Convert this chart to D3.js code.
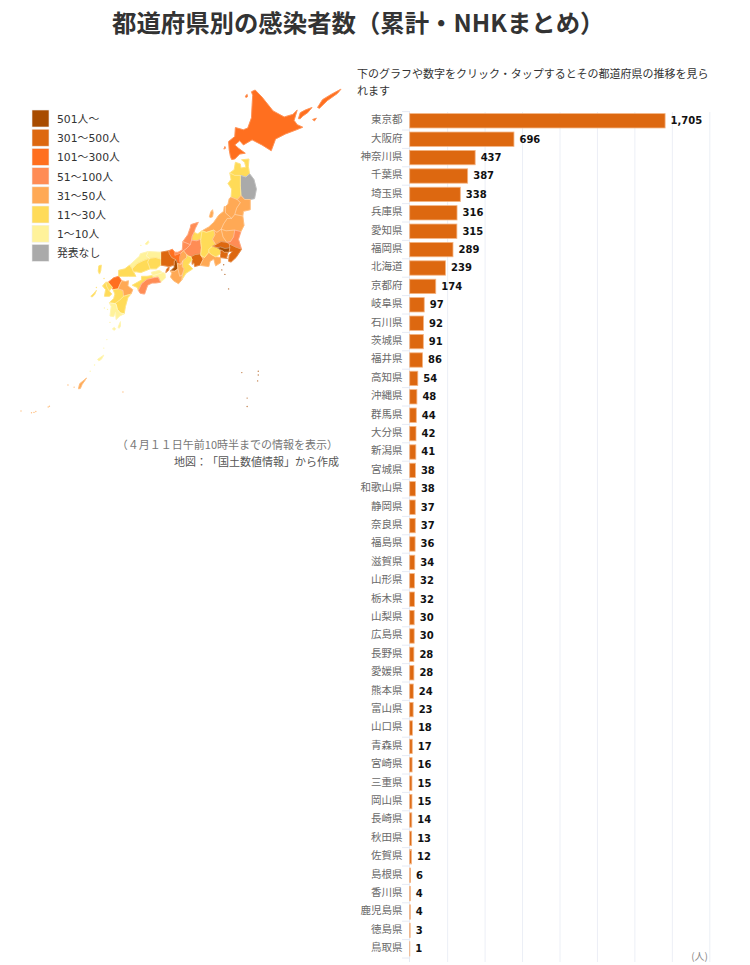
<!DOCTYPE html>
<html lang="ja"><head><meta charset="utf-8">
<script src="https://cdn.jsdelivr.net/npm/d3@7"></script>
<style>
html,body{margin:0;padding:0;background:#fff}
svg{display:block}
text{font-family:"Noto Sans CJK JP","Noto Sans",sans-serif;text-spacing-trim:space-all}
</style></head><body><svg id="c" width="750" height="965"></svg>
<script>
const prefectures=["東京都","大阪府","神奈川県","千葉県","埼玉県","兵庫県","愛知県","福岡県","北海道","京都府","岐阜県","石川県","茨城県","福井県","高知県","沖縄県","群馬県","大分県","新潟県","宮城県","和歌山県","静岡県","奈良県","福島県","滋賀県","山形県","栃木県","山梨県","広島県","長野県","愛媛県","熊本県","富山県","山口県","青森県","宮崎県","三重県","岡山県","長崎県","秋田県","佐賀県","島根県","香川県","鹿児島県","徳島県","鳥取県"];
const counts=[1705,696,437,387,338,316,315,289,239,174,97,92,91,86,54,48,44,42,41,38,38,37,37,36,34,32,32,30,30,28,28,24,23,18,17,16,15,15,14,13,12,6,4,4,3,1];
const xTicks=[250,500,750,1000,1250,1500,1750,2000];
const legendLabels=["501人〜","301〜500人","101〜300人","51〜100人","31〜50人","11〜30人","1〜10人","発表なし"];
const legendColors=["#a84c00","#dd6810","#ff6f1f","#ff8c55","#ffa955","#ffdb58","#fff29a","#aaaaaa"];
const legendBreaks=[11,31,51,101,301,501];
const introLines=["下のグラフや数字をクリック・タップするとその都道府県の推移を見ら","れます"];
// Prefecture outlines, [lon,lat]
const outlines=[
["北海道",[[141.65,45.4],[141.95,45.5],[142.5,45.1],[143.4,44.3],[144.3,43.95],[145.0,44.1],[145.35,44.35],[145.1,43.75],[145.35,43.5],[145.8,43.35],[145.3,43.2],[144.4,42.95],[143.6,42.65],[143.25,41.95],[142.5,42.3],[141.7,42.6],[141.0,42.3],[140.7,42.55],[140.3,42.3],[140.6,42.1],[141.15,41.8],[140.7,41.75],[140.3,41.45],[140.05,41.42],[139.95,41.6],[139.85,42.0],[139.8,42.5],[140.3,42.8],[140.35,43.33],[141.0,43.2],[141.35,43.3],[141.65,43.9],[141.7,44.6],[141.75,45.2]]],
["北海道",[[145.45,43.85],[145.6,44.2],[146.0,44.35],[146.55,44.5],[146.2,44.2],[145.8,44.0],[145.6,43.85]]],
["北海道",[[147.0,44.5],[147.4,44.95],[148.1,45.25],[148.9,45.55],[148.6,45.3],[147.8,44.9],[147.15,44.45]]],
["北海道",[[146.6,43.8],[146.9,43.88],[146.75,43.72]]],
["北海道",[[141.15,45.15],[141.3,45.25],[141.33,45.12],[141.2,45.08]]],
["北海道",[[139.42,42.05],[139.5,42.2],[139.55,42.1]]],
["青森県",[[139.9,40.6],[140.25,40.8],[140.35,41.25],[140.75,41.15],[140.8,40.9],[141.2,40.95],[141.1,41.25],[140.85,41.4],[141.45,41.45],[141.4,41.0],[141.5,40.55],[141.2,40.35],[140.75,40.45],[140.3,40.45]]],
["岩手県",[[141.5,40.55],[141.85,40.2],[142.05,39.6],[141.9,39.0],[141.55,38.95],[141.1,38.95],[140.8,39.2],[140.75,39.8],[140.75,40.45],[141.2,40.35]]],
["秋田県",[[139.9,40.6],[140.3,40.45],[140.75,40.45],[140.75,39.8],[140.8,39.2],[140.5,38.95],[140.0,39.1],[140.05,39.6],[139.75,39.95],[140.0,40.2]]],
["宮城県",[[141.1,38.95],[141.55,38.95],[141.55,38.3],[141.0,38.2],[140.95,37.9],[140.3,38.0],[140.45,38.4],[140.75,38.75],[140.5,38.95],[140.8,39.2]]],
["山形県",[[140.0,39.1],[140.5,38.95],[140.75,38.75],[140.45,38.4],[140.3,38.0],[140.05,37.75],[139.55,38.1],[139.55,38.5],[139.75,38.65],[139.85,39.0]]],
["福島県",[[140.95,37.9],[141.05,37.3],[140.8,36.9],[140.3,37.0],[139.6,36.95],[139.2,37.05],[139.4,37.4],[139.7,37.75],[140.05,37.75],[140.3,38.0]]],
["新潟県",[[139.55,38.5],[139.55,38.1],[140.05,37.75],[139.7,37.75],[139.4,37.4],[139.2,37.05],[138.85,36.85],[138.6,37.0],[138.0,36.85],[137.65,36.95],[138.2,37.2],[138.6,37.5],[139.0,37.95],[139.4,38.2],[139.45,38.5]]],
["新潟県",[[138.25,37.85],[138.35,38.15],[138.5,38.3],[138.55,38.1],[138.5,37.85],[138.3,37.8]]],
["富山県",[[137.0,36.85],[137.3,36.75],[137.65,36.95],[137.55,36.4],[137.2,36.3],[136.8,36.35],[136.85,36.6]]],
["石川県",[[136.1,36.25],[136.5,36.7],[136.7,37.15],[136.75,37.35],[137.35,37.5],[137.1,37.1],[137.0,36.85],[136.85,36.6],[136.8,36.35],[136.7,36.05],[136.4,36.15]]],
["福井県",[[136.1,36.25],[136.4,36.15],[136.7,36.05],[136.4,35.8],[136.15,35.65],[135.95,35.5],[135.45,35.35],[135.45,35.55],[135.7,35.55],[136.05,35.7]]],
["岐阜県",[[136.8,36.35],[137.2,36.3],[137.55,36.4],[137.55,36.2],[137.6,35.85],[137.55,35.45],[137.1,35.4],[136.75,35.25],[136.55,3.53e1],[136.4,35.4],[136.15,35.65],[136.4,35.8],[136.7,36.05]]],
["愛知県",[[136.75,35.25],[137.1,35.4],[137.55,35.45],[137.55,35.35],[137.75,35.1],[137.5,34.7],[137.05,34.6],[137.0,34.85],[136.85,34.75],[136.85,35.05]]],
["三重県",[[136.55,35.3],[136.75,35.25],[136.85,35.05],[136.55,34.75],[136.9,34.45],[136.35,34.15],[136.02,33.72],[136.05,34.05],[136.2,34.45],[136.05,34.6],[136.1,35.0],[136.4,35.2],[136.4,35.4]]],
["滋賀県",[[135.95,35.5],[136.15,35.65],[136.4,35.4],[136.4,35.2],[136.1,35.0],[135.95,34.75],[135.85,34.95],[135.85,35.25]]],
["静岡県",[[137.55,35.35],[137.75,35.1],[137.5,34.68],[138.2,34.6],[138.3,34.95],[138.6,35.1],[138.75,34.65],[139.15,34.85],[139.15,35.2],[138.75,35.25],[138.4,35.4],[138.2,35.55],[137.85,35.2]]],
["長野県",[[137.65,36.95],[138.0,36.85],[138.6,37.0],[138.7,36.7],[138.5,36.4],[138.75,36.05],[138.5,35.95],[138.2,35.75],[138.2,35.55],[137.85,35.2],[137.55,35.35],[137.55,35.45],[137.6,35.85],[137.55,36.2],[137.55,36.4]]],
["山梨県",[[138.2,35.75],[138.5,35.95],[138.9,35.85],[139.15,35.7],[139.15,35.45],[138.75,35.25],[138.4,35.4],[138.2,35.55]]],
["群馬県",[[138.6,37.0],[138.85,36.85],[139.2,37.05],[139.35,36.55],[139.65,36.2],[139.2,36.25],[138.75,36.05],[138.5,36.4],[138.7,36.7]]],
["栃木県",[[139.2,37.05],[139.6,36.95],[140.3,37.0],[140.2,36.55],[139.95,36.25],[139.65,36.2],[139.35,36.55]]],
["茨城県",[[140.3,37.0],[140.8,36.9],[140.6,36.4],[140.85,35.75],[140.35,35.9],[139.85,36.1],[139.65,36.2],[139.95,36.25],[140.2,36.55]]],
["埼玉県",[[138.75,36.05],[139.2,36.25],[139.65,36.2],[139.85,36.1],[139.9,35.85],[139.5,35.8],[139.15,35.9],[138.9,35.85],[138.5,35.95]]],
["東京都",[[139.15,35.7],[138.9,35.85],[139.15,35.9],[139.5,35.8],[139.9,35.85],[139.85,35.6],[139.75,35.55],[139.45,35.55],[139.3,35.65]]],
["神奈川県",[[139.15,35.45],[139.15,35.7],[139.3,35.65],[139.45,35.55],[139.75,35.55],[139.65,35.2],[139.7,35.13],[139.6,35.15],[139.15,35.2]]],
["千葉県",[[139.85,36.1],[140.35,35.9],[140.85,35.75],[140.4,35.2],[140.0,34.9],[139.8,34.95],[139.85,35.35],[140.1,35.6],[139.85,35.6],[139.9,35.85]]],
["京都府",[[135.25,35.75],[135.45,35.55],[135.45,35.35],[135.95,35.5],[135.85,35.25],[135.85,34.95],[135.95,34.75],[135.65,34.8],[135.55,35.05],[135.2,35.2],[135.0,35.45],[134.95,35.65]]],
["大阪府",[[135.4,34.95],[135.55,35.05],[135.65,34.8],[135.7,34.45],[135.45,34.3],[135.1,34.3],[135.4,34.55],[135.4,34.7]]],
["兵庫県",[[134.3,35.55],[134.95,35.65],[135.0,35.45],[135.2,35.2],[135.55,35.05],[135.4,34.95],[135.4,34.7],[135.0,34.6],[134.3,34.7],[134.3,35.1]]],
["兵庫県",[[135.0,34.62],[134.95,34.35],[134.72,34.2],[134.78,34.42]]],
["奈良県",[[135.65,34.8],[135.95,34.75],[136.1,35.0],[136.05,34.6],[136.2,34.45],[136.05,34.05],[135.85,33.95],[135.7,34.45]]],
["和歌山県",[[135.1,34.3],[135.45,34.3],[135.7,34.45],[135.85,33.95],[136.05,34.05],[136.02,33.72],[135.75,33.45],[135.35,33.65],[135.1,33.9],[135.2,34.15]]],
["鳥取県",[[133.3,35.6],[134.3,35.55],[134.3,35.1],[133.9,35.2],[133.4,35.15],[133.15,35.3]]],
["島根県",[[131.8,34.7],[132.6,35.3],[132.65,35.45],[133.3,35.6],[133.15,35.3],[133.4,35.15],[132.9,35.0],[132.4,34.8],[132.0,34.45]]],
["島根県",[[133.05,36.1],[133.3,36.3],[133.35,36.2],[133.2,36.05]]],
["岡山県",[[133.4,35.15],[133.9,35.2],[134.3,35.1],[134.3,34.7],[133.95,34.45],[133.45,34.45],[133.25,34.9]]],
["広島県",[[132.0,34.45],[132.4,34.8],[132.9,35.0],[133.4,35.15],[133.25,34.9],[133.45,34.45],[132.7,34.2],[132.35,34.25],[132.1,34.25]]],
["山口県",[[130.9,33.95],[130.9,34.35],[131.4,34.45],[131.8,34.7],[132.0,34.45],[132.1,34.25],[132.3,33.95],[131.7,33.95],[131.2,33.95]]],
["香川県",[[133.55,34.22],[134.2,34.35],[134.45,34.2],[133.9,34.05],[133.65,34.0]]],
["徳島県",[[133.65,34.0],[133.9,34.05],[134.45,34.2],[134.65,34.15],[134.7,33.85],[134.3,33.55],[134.1,33.9],[133.7,33.85]]],
["愛媛県",[[132.0,33.35],[132.75,33.7],[132.75,33.95],[133.2,33.95],[133.65,34.0],[133.7,33.85],[133.2,33.75],[132.75,33.45],[132.5,33.0],[132.4,33.2]]],
["高知県",[[133.7,33.85],[134.1,33.9],[134.3,33.55],[133.9,33.5],[133.6,33.5],[133.25,33.35],[133.0,32.75],[132.65,32.8],[132.5,33.0],[132.75,33.45],[133.2,33.75]]],
["福岡県",[[130.05,33.55],[130.5,33.85],[130.9,33.95],[131.15,33.65],[131.0,33.4],[130.85,33.1],[130.45,33.05],[130.4,33.2],[130.2,33.4]]],
["佐賀県",[[129.85,33.55],[130.05,33.55],[130.2,33.4],[130.4,33.2],[130.25,33.1],[130.15,32.95],[129.95,33.25]]],
["長崎県",[[129.6,33.3],[129.85,33.55],[129.95,33.25],[130.15,32.95],[130.35,32.75],[130.15,32.6],[129.75,32.6],[129.85,33.05]]],
["長崎県",[[129.25,34.3],[129.3,34.65],[129.5,34.7],[129.45,34.3],[129.35,34.1]]],
["長崎県",[[128.65,32.6],[128.85,32.75],[129.1,33.0],[128.95,32.7],[128.75,32.55]]],
["熊本県",[[130.45,33.05],[130.85,33.1],[131.25,33.0],[131.3,32.6],[131.0,32.35],[130.6,32.1],[130.15,32.15],[130.5,32.45],[130.6,32.75]]],
["大分県",[[131.15,33.65],[131.45,33.6],[131.7,33.65],[131.65,33.3],[132.05,33.05],[131.9,32.75],[131.3,32.6],[131.25,33.0],[130.85,33.1],[131.0,33.4]]],
["宮崎県",[[131.9,32.75],[131.65,32.5],[131.45,31.9],[131.35,31.4],[131.05,31.45],[130.8,31.7],[130.7,32.05],[130.6,32.1],[131.0,32.35],[131.3,32.6]]],
["鹿児島県",[[130.6,32.1],[130.7,32.05],[130.8,31.7],[131.05,31.45],[131.35,31.4],[131.0,31.25],[130.7,31.0],[130.65,31.5],[130.5,31.2],[130.2,31.25],[130.3,31.9],[130.15,32.15]]],
["鹿児島県",[[130.4,30.35],[130.55,30.45],[130.65,30.35],[130.55,30.25]]],
["鹿児島県",[[130.85,30.45],[131.05,30.85],[131.05,30.55],[130.95,30.4]]],
["鹿児島県",[[129.2,28.2],[129.7,28.5],[129.5,28.2],[129.3,28.1]]],
["沖縄県",[[127.65,26.08],[127.75,26.45],[128.3,26.85],[127.95,26.4],[127.8,26.1]]]
];
const islets=[["東京都",139.4,34.72],["東京都",139.25,34.38],["東京都",139.5,34.08],["東京都",139.8,33.1],["東京都",140.87,27.25],["東京都",142.2,27.35],["東京都",142.2,27.08],["東京都",142.15,26.65],["東京都",141.3,25.4],["東京都",141.3,24.78],["沖縄県",127.3,26.2],["沖縄県",126.8,26.35],["沖縄県",125.3,24.8],["沖縄県",125.2,24.75],["沖縄県",124.2,24.42],["沖縄県",123.85,24.32],["沖縄県",124.05,24.35],["沖縄県",123.0,24.45],["沖縄県",131.25,25.85],["鹿児島県",128.95,27.8],["鹿児島県",128.6,27.35],["鹿児島県",129.7,29.0],["鹿児島県",129.95,29.6],["鹿児島県",130.2,30.8],["鹿児島県",129.75,31.8],["鹿児島県",130.0,31.7],["長崎県",129.72,33.8],["長崎県",129.1,33.2],["島根県",132.7,36.0]];

const svg=d3.select("#c");
svg.append("rect").attr("width",750).attr("height",965).attr("fill","#fff");

const countOf=new Map(prefectures.map((p,i)=>[p,counts[i]]));
const colorScale=d3.scaleThreshold().domain(legendBreaks).range(legendColors.slice(0,7).reverse());
const fillOf=p=>countOf.has(p)?colorScale(countOf.get(p)):legendColors[7];

// Title and notes
svg.append("text").attr("x",112).attr("y",32).attr("font-size",24.4).attr("font-weight",700).attr("fill","#333").text("都道府県別の感染者数（累計・NHKまとめ）");
svg.selectAll(".intro").data(introLines).join("text").attr("class","intro").attr("x",357).attr("y",(d,i)=>78+i*17).attr("font-size",11).attr("fill","#333").text(d=>d);

// Map
const projection=d3.geoMercator().scale(708).center([123,45.5]).translate([21,90]);
const line=d3.line().x(d=>projection(d)[0]).y(d=>projection(d)[1]).curve(d3.curveLinearClosed);
const gMap=svg.append("g");
gMap.selectAll("path.land").data(outlines).join("path").attr("class","land").attr("d",d=>line(d[1])).attr("fill",d=>fillOf(d[0])).attr("stroke",d=>fillOf(d[0])).attr("stroke-width",.9).attr("stroke-linejoin","round");
gMap.selectAll("path.border").data(outlines).join("path").attr("class","border").attr("d",d=>line(d[1])).attr("fill","none").attr("stroke","#fff").attr("stroke-opacity",.4).attr("stroke-width",.5).attr("stroke-linejoin","round");
gMap.selectAll("circle").data(islets).join("circle").attr("cx",d=>projection([d[1],d[2]])[0]).attr("cy",d=>projection([d[1],d[2]])[1]).attr("r",.7).attr("fill",d=>fillOf(d[0])).attr("opacity",.75);

// Legend
const legend=svg.append("g").selectAll("g").data(legendLabels).join("g").attr("transform",(d,i)=>`translate(32,${110+i*19.2})`);
legend.append("rect").attr("width",17).attr("height",17).attr("fill",(d,i)=>legendColors[i]).attr("stroke","#eee").attr("stroke-width",.6);
legend.append("text").attr("x",25).attr("y",13).attr("font-size",10.8).attr("fill","#333").style("font-family",'"DejaVu Sans","Noto Sans CJK JP",sans-serif').text(d=>d);

// Captions
svg.append("text").attr("x",338).attr("y",449).attr("text-anchor","end").attr("font-size",11).attr("fill","#777").text("（４月１１日午前10時半までの情報を表示）");
svg.append("text").attr("x",339).attr("y",466).attr("text-anchor","end").attr("font-size",11).attr("fill","#555").text("地図：「国土数値情報」から作成");

// Bars
const x=d3.scaleLinear().domain([0,2000]).range([409.7,709.3]);
const y=d3.scaleBand().domain(prefectures).range([111.6,958]).paddingInner(0.22).paddingOuter(0.11);
const stepH=y.step();
const grid=svg.append("g").attr("transform","translate(0,112)").call(d3.axisBottom(x).tickValues(xTicks).tickSize(850).tickFormat(""));
grid.select(".domain").remove();
grid.selectAll(".tick line").attr("stroke","#eceff6").attr("stroke-width",1);

const yAxis=svg.append("g").attr("transform","translate(402.5,0)").call(d3.axisLeft(y).tickSize(0).tickPadding(0));
yAxis.select(".domain").remove();
yAxis.selectAll("text").attr("font-size",10.5).attr("fill","#6a6a6a").attr("dy","0.22em").style("font-family",'"Noto Sans CJK JP",sans-serif');

const edge=[...prefectures.map(p=>y(p)-y.paddingInner()*stepH/2),958];
svg.append("g").selectAll("line").data(edge).join("line").attr("x1",402).attr("x2",409.5).attr("y1",d=>d).attr("y2",d=>d).attr("stroke","#e6eaf4");
svg.append("line").attr("x1",409.5).attr("x2",409.5).attr("y1",111).attr("y2",962).attr("stroke","#e6eaf4");

svg.append("g").selectAll("rect").data(counts).join("rect")
 .attr("x",x(0)).attr("y",(d,i)=>y(prefectures[i])).attr("width",d=>x(d)-x(0)).attr("height",y.bandwidth())
 .attr("fill","#dd6810").attr("stroke","#f4b483").attr("stroke-width",.8);
svg.append("g").selectAll("text").data(counts).join("text")
 .attr("x",d=>x(d)+5.5).attr("y",(d,i)=>y(prefectures[i])+y.bandwidth()/2+3.4)
 .attr("font-size",10).attr("font-weight",700).attr("fill","#111").style("font-family",'"DejaVu Sans",sans-serif')
 .text(d=>d3.format(",")(d));
svg.append("text").attr("x",708).attr("y",960).attr("text-anchor","end").attr("font-size",10).attr("fill","#888").text("(人)");
</script></body></html>
